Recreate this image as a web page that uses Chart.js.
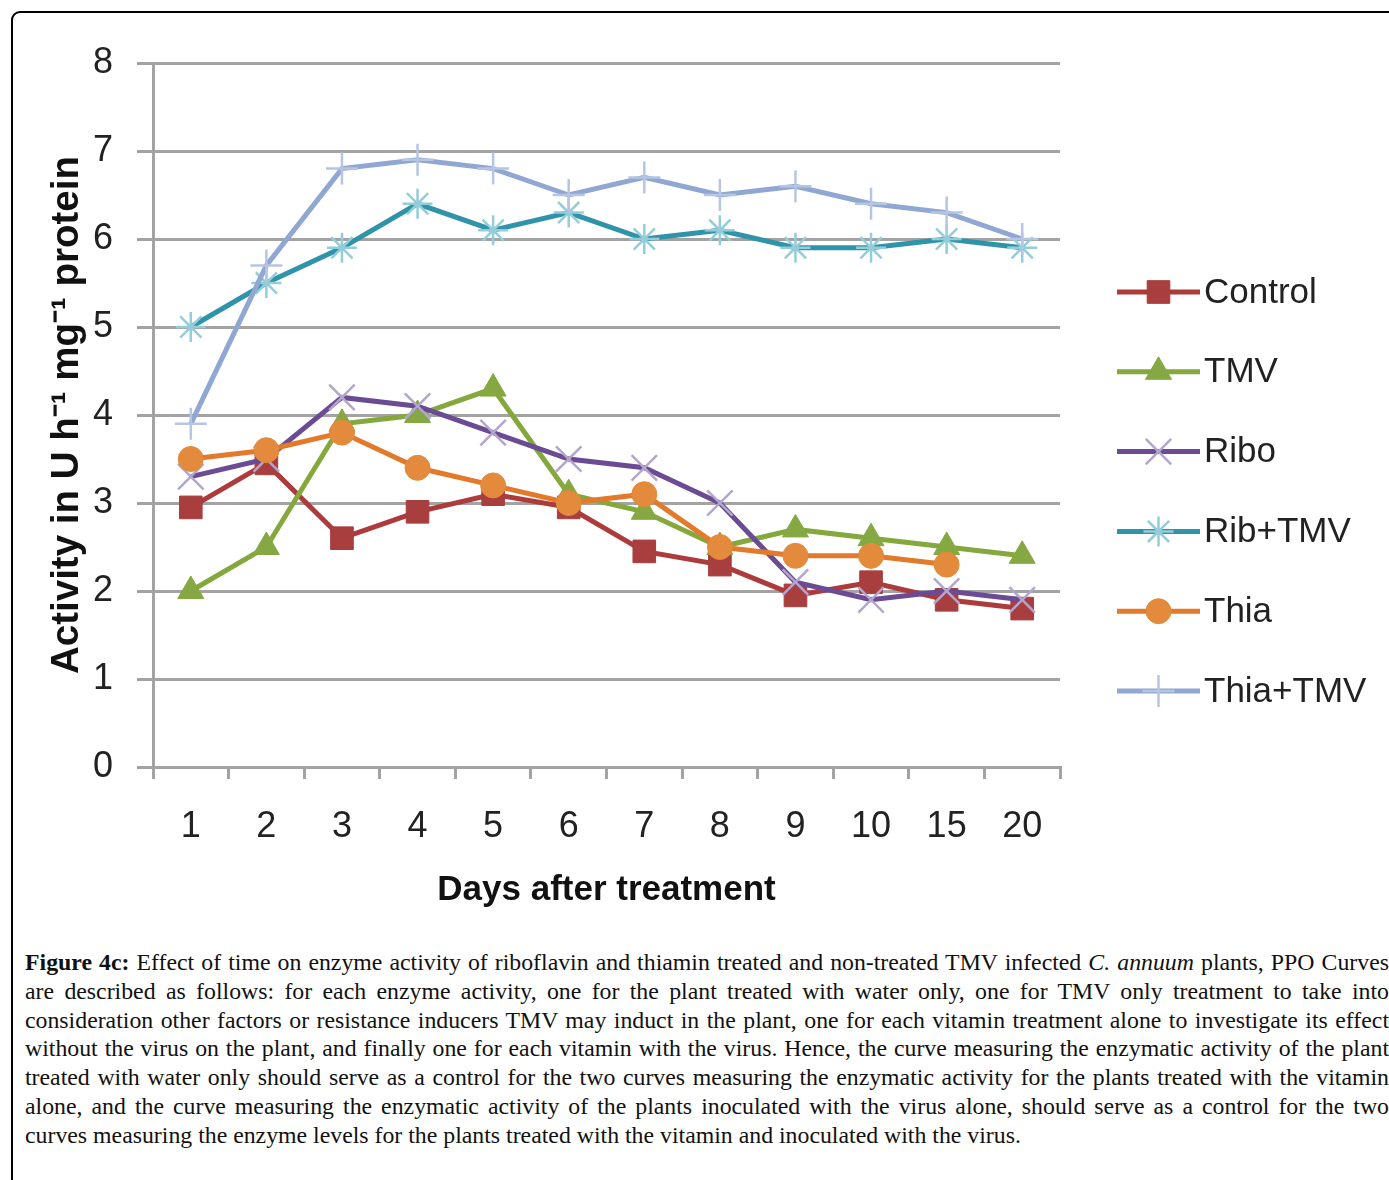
<!DOCTYPE html>
<html>
<head>
<meta charset="utf-8">
<script src="https://cdn.jsdelivr.net/npm/chart.js@4.4.0/dist/chart.umd.min.js"></script>
<style>
  body { margin: 0; background: #fff; width: 1389px; height: 1180px; overflow: hidden; position: relative; }
  #frame { position: absolute; left: 11px; top: 11px; width: 1420px; height: 1220px; border: 2px solid #000; border-radius: 9px; }
  #box { position: absolute; left: 0; top: 0; width: 1389px; height: 930px; }
  #caption { position: absolute; left: 25px; top: 948px; width: 1364px; font-family: "Liberation Serif", serif; font-size: 23.8px; line-height: 28.8px; color: #111; }
  #caption div { white-space: nowrap; text-align: justify; text-align-last: justify; }
  #caption div.last { text-align-last: left; }
  #caption b { font-family: "Liberation Serif", serif; }
</style>
</head>
<body>
<div id="frame"></div>
<div id="box"><canvas id="myChart"></canvas></div>
<div id="caption">
  <div><b>Figure 4c:</b> Effect of time on enzyme activity of riboflavin and thiamin treated and non-treated TMV infected <i>C. annuum</i> plants, PPO Curves</div>
  <div>are described as follows: for each enzyme activity, one for the plant treated with water only, one for TMV only treatment to take into</div>
  <div>consideration other factors or resistance inducers TMV may induct in the plant, one for each vitamin treatment alone to investigate its effect</div>
  <div>without the virus on the plant, and finally one for each vitamin with the virus. Hence, the curve measuring the enzymatic activity of the plant</div>
  <div>treated with water only should serve as a control for the two curves measuring the enzymatic activity for the plants treated with the vitamin</div>
  <div>alone, and the curve measuring the enzymatic activity of the plants inoculated with the virus alone, should serve as a control for the two</div>
  <div class="last">curves measuring the enzyme levels for the plants treated with the vitamin and inoculated with the virus.</div>
</div>
<script>
// datos
const dias = ['1','2','3','4','5','6','7','8','9','10','15','20'];
const control = [2.95, 3.45, 2.6, 2.9, 3.1, 2.95, 2.45, 2.3, 1.95, 2.1, 1.9, 1.8];
const tmv     = [2.0, 2.5, 3.9, 4.0, 4.3, 3.1, 2.9, 2.5, 2.7, 2.6, 2.5, 2.4];
const ribo    = [3.3, 3.5, 4.2, 4.1, 3.8, 3.5, 3.4, 3.0, 2.1, 1.9, 2.0, 1.9];
const ribTmv  = [5.0, 5.5, 5.9, 6.4, 6.1, 6.3, 6.0, 6.1, 5.9, 5.9, 6.0, 5.9];
const thia    = [3.5, 3.6, 3.8, 3.4, 3.2, 3.0, 3.1, 2.5, 2.4, 2.4, 2.3, null];
const thiaTmv = [3.9, 5.7, 6.8, 6.9, 6.8, 6.5, 6.7, 6.5, 6.6, 6.4, 6.3, 6.0];

const nombres = ['Control', 'TMV', 'Ribo', 'Rib+TMV', 'Thia', 'Thia+TMV'];
const yTicks = [0, 1, 2, 3, 4, 5, 6, 7, 8];

const gris = '#a3a3a3';

function serie(label, data, linea, estilo, radio, relleno, borde, anchoBorde, orden) {
  return {
    label: label,
    data: data,
    borderColor: linea,
    borderWidth: 5,
    tension: 0,
    pointStyle: estilo,
    pointRadius: radio,
    pointHoverRadius: radio,
    pointBackgroundColor: relleno,
    pointBorderColor: borde,
    pointBorderWidth: anchoBorde,
    order: orden
  };
}

const datasets = [
  serie(nombres[0], control, '#ad3b3b', 'rect', 16, '#a83e3e', '#a83e3e', 1, 0),
  serie(nombres[1], tmv, '#84a83c', 'triangle', 15, '#86a843', '#86a843', 1, -1),
  serie(nombres[2], ribo, '#6a4b94', 'crossRot', 18, '#b4a5cf', '#b4a5cf', 2.5, -2),
  serie(nombres[3], ribTmv, '#2f94aa', 'star', 15, '#93cdd9', '#93cdd9', 2.5, -3),
  serie(nombres[4], thia, '#e2792b', 'circle', 12.5, '#e38a3c', '#e38a3c', 1, -4),
  serie(nombres[5], thiaTmv, '#90a7d3', 'cross', 16, '#b6c5e3', '#b6c5e3', 2.5, -5)
];

// leyenda al lado derecho, linea + marcador
const leyenda = {
  id: 'leyenda',
  afterDraw(chart) {
    const ctx = chart.ctx;
    const x0 = 1117, x1 = 1200, y0 = 292, paso = 79.8;
    chart.data.datasets.forEach((ds, i) => {
      const y = y0 + i * paso;
      ctx.save();
      ctx.strokeStyle = ds.borderColor;
      ctx.lineWidth = 5;
      ctx.beginPath();
      ctx.moveTo(x0, y);
      ctx.lineTo(x1, y);
      ctx.stroke();
      ctx.fillStyle = ds.pointBackgroundColor;
      ctx.strokeStyle = ds.pointBorderColor;
      ctx.lineWidth = ds.pointBorderWidth;
      Chart.helpers.drawPoint(ctx, {
        pointStyle: ds.pointStyle,
        radius: ds.pointRadius,
        rotation: 0,
        borderWidth: ds.pointBorderWidth
      }, (x0 + x1) / 2, y);
      ctx.fillStyle = '#222';
      ctx.font = '35px "Liberation Sans"';
      ctx.textBaseline = 'middle';
      ctx.textAlign = 'left';
      ctx.fillText(ds.label, 1204, y + 1);
      ctx.restore();
    });
  }
};

const ctx = document.getElementById('myChart');

const grafico = new Chart(ctx, {
  type: 'line',
  data: {
    labels: dias,
    datasets: datasets
  },
  options: {
    responsive: true,
    maintainAspectRatio: false,
    animation: false,
    layout: { padding: { left: 0, right: 329, top: 63, bottom: 0 } },
    plugins: {
      legend: { display: false },
      tooltip: { enabled: false }
    },
    scales: {
      x: {
        offset: true,
        grid: {
          offset: true,
          drawOnChartArea: false,
          color: gris,
          lineWidth: 3,
          tickLength: 12
        },
        border: { color: gris, width: 3 },
        ticks: {
          color: '#222',
          padding: 26,
          font: { family: 'Liberation Sans', size: 36 },
          maxRotation: 0,
          autoSkip: false
        },
        title: {
          display: true,
          text: 'Days after treatment',
          color: '#111',
          font: { family: 'Liberation Sans', size: 35, weight: 'bold' },
          padding: { top: 0, bottom: 19 }
        },
        afterFit(scale) { scale.height = 163; }
      },
      y: {
        min: 0,
        max: 8,
        afterBuildTicks(scale) { scale.ticks = yTicks.map(v => ({ value: v })); },
        grid: {
          color: gris,
          lineWidth: 3,
          tickLength: 16
        },
        border: { color: gris, width: 3 },
        ticks: {
          color: '#222',
          padding: 24,
          font: { family: 'Liberation Sans', size: 36 }
        },
        title: {
          display: true,
          text: 'Activity in U h\u207B\u00B9 mg\u207B\u00B9 protein',
          color: '#111',
          font: { family: 'Liberation Sans', size: 38.5, weight: 'bold' },
          padding: { top: 44, bottom: 0 }
        },
        afterFit(scale) { scale.width = 153; }
      }
    }
  },
  plugins: [leyenda]
});
</script>
</body>
</html>
